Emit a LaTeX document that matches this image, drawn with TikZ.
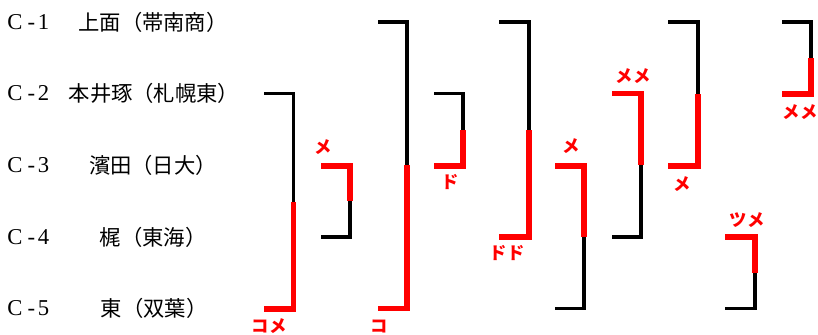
\documentclass[tikz,border=0pt]{standalone}
\usepackage{fontspec}
\setmainfont{Liberation Serif}
\newfontfamily\jp{Noto Sans CJK JP}
\tikzset{
  blkline/.style={line width=2.4pt, black, line join=miter},
  winline/.style={line width=4.2pt, red, line join=miter},
  jname/.style={font=\jp\fontsize{16pt}{18pt}\selectfont, text=black, inner sep=0pt},
  cidtext/.style={font=\fontsize{17pt}{19pt}\selectfont, text=black, inner sep=0pt, anchor=west},
  restext/.style={font=\jp\bfseries\fontsize{13pt}{15pt}\selectfont, text=red, inner sep=0pt}
}
% bracket: #1 name, #2 L, #3 V, #4 T, #5 B, #6 S
\newcommand\winbot[6]{%
  \coordinate (#1t) at (#2,#4); \coordinate (#1b) at (#2,#5);
  \coordinate (#1s) at (#3,#6);
  \draw[blkline] (#1t) -- (#3,#4) -- (#1s);
  \draw[winline] (#1b) -- (#3,#5) -- (#1s);}
\newcommand\wintop[6]{%
  \coordinate (#1t) at (#2,#4); \coordinate (#1b) at (#2,#5);
  \coordinate (#1s) at (#3,#6);
  \draw[blkline] (#1b) -- (#3,#5) -- (#1s);
  \draw[winline] (#1t) -- (#3,#4) -- (#1s);}
\newcommand\cid[1]{C\hspace{4pt}-\hspace{2pt}#1}
\begin{document}
\begin{tikzpicture}[x=0.75pt,y=-0.75pt]
\useasboundingbox (0,0) rectangle (818,335);
% rows
\node[cidtext] (c1) at (7,22) {\cid{1}};
\node[cidtext] (c2) at (7,93.5) {\cid{2}};
\node[cidtext] (c3) at (7,165) {\cid{3}};
\node[cidtext] (c4) at (7,237) {\cid{4}};
\node[cidtext] (c5) at (7,308.5) {\cid{5}};
\node[jname] (n1) at (153,22) {上面（帯南商）};
\node[jname] (n2) at (154,93.5) {本井琢（札幌東）};
\node[jname] (n3) at (153,165) {濱田（日大）};
\node[jname] (n4) at (153,237) {梶（東海）};
\node[jname] (n5) at (154,308.5) {東（双葉）};
% brackets
\winbot{m1}{264}{293.5}{93.5}{309}{202}
\wintop{m2}{321}{350}{166}{237}{201}
\winbot{m3}{378}{407}{22}{308.5}{165}
\winbot{m4}{434}{463}{93.5}{166}{130}
\winbot{m5}{499}{529}{22}{237}{130}
\wintop{m6}{555}{584}{166}{308.5}{237}
\wintop{m7}{612}{641}{93.5}{237}{165}
\winbot{m8}{668}{698}{22}{166}{94}
\wintop{m9}{725}{755}{237}{308.5}{273}
\winbot{m10}{782}{811}{22}{94}{58}
% results
\node[restext] (r1) at (269,326) {コメ};
\node[restext] (r2) at (323,147) {メ};
\node[restext] (r3) at (379,326) {コ};
\node[restext] (r4) at (450,182) {ド};
\node[restext] (r5) at (507,253) {ドド};
\node[restext] (r6) at (571,146) {メ};
\node[restext] (r7) at (633,76) {メメ};
\node[restext] (r8) at (682,184) {メ};
\node[restext] (r9) at (747,220) {ツメ};
\node[restext] (r10) at (800,112) {メメ};
\end{tikzpicture}
\end{document}
